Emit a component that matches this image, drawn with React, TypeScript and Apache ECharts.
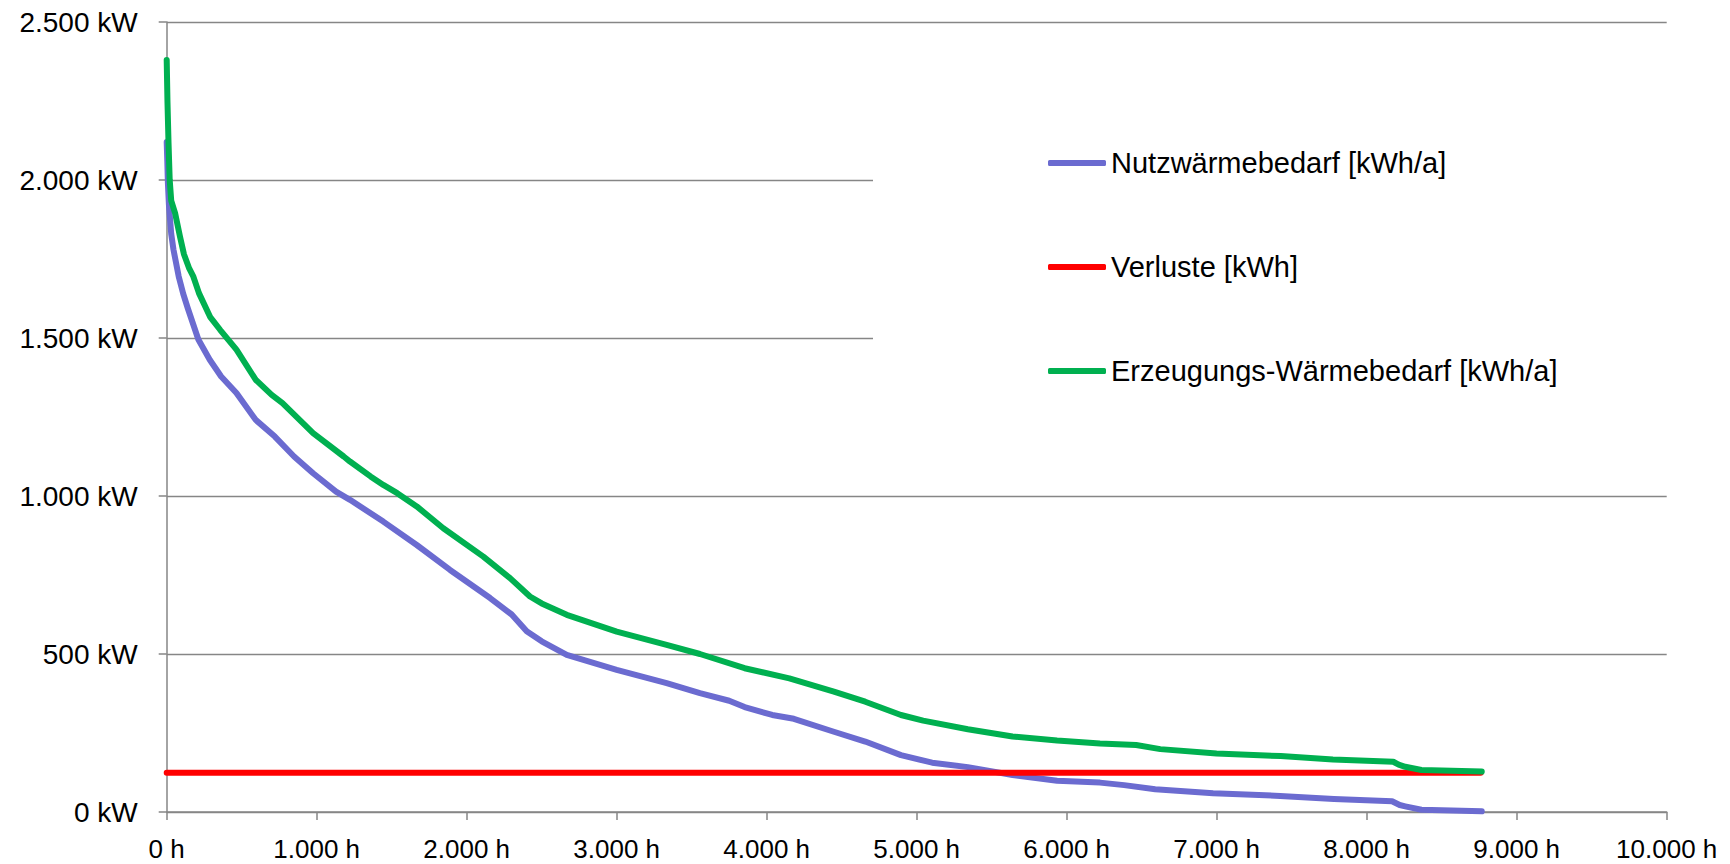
import React, { useEffect, useRef } from "react";
import * as echarts from "echarts";

// Nutzwärmebedarf (blue) – hours / kW
const nutzHours = [0, 4, 8, 15, 30, 45, 80, 110, 140, 211, 287, 363, 465, 593, 721, 849, 976, 1129, 1222, 1444, 1667, 1889, 2156, 2300, 2400, 2500, 2667, 3000, 3333, 3555, 3750, 3853, 4037, 4181, 4448, 4657, 4895, 5103, 5341, 5639, 5936, 6222, 6383, 6590, 6976, 7423, 7782, 8169, 8220, 8257, 8365, 8767];
const nutzKW = [2120, 2060, 1990, 1920, 1830, 1780, 1695, 1640, 1595, 1495, 1431, 1378, 1326, 1241, 1188, 1125, 1072, 1014, 988, 919, 845, 766, 677, 625, 572, 540, 497, 450, 408, 376, 352, 332, 307, 295, 254, 223, 180, 156, 142, 117, 99, 93, 85, 72, 59, 51, 41, 34, 22, 18, 7, 2];

// Verluste (red)
const verlustHours = [0, 8760];
const verlustKW = [124, 124];

// Erzeugungs-Wärmebedarf (green)
const erzHours = [0, 5, 12, 20, 30, 56, 89, 115, 150, 178, 215, 289, 356, 465, 593, 700, 772, 976, 1180, 1222, 1359, 1444, 1537, 1667, 1844, 2111, 2289, 2422, 2500, 2667, 3000, 3333, 3555, 3853, 4151, 4448, 4657, 4895, 5043, 5341, 5639, 5936, 6222, 6463, 6624, 6999, 7427, 7775, 8177, 8213, 8257, 8365, 8767];
const erzKW = [2380, 2250, 2120, 2000, 1935, 1895, 1820, 1765, 1720, 1694, 1642, 1567, 1526, 1463, 1368, 1320, 1294, 1199, 1125, 1109, 1062, 1035, 1009, 967, 898, 808, 740, 682, 660, 624, 571, 529, 500, 455, 423, 381, 349, 307, 289, 262, 239, 226, 217, 212, 199, 185, 177, 166, 159, 150, 143, 133, 128];

const seriesNames = ["Nutzwärmebedarf [kWh/a]", "Verluste [kWh]", "Erzeugungs-Wärmebedarf [kWh/a]"];
const seriesColors = ["#6b6bd0", "#ff0000", "#00b050"];

const xTickLabels = ["0 h", "1.000 h", "2.000 h", "3.000 h", "4.000 h", "5.000 h", "6.000 h", "7.000 h", "8.000 h", "9.000 h", "10.000 h"];
const yTickLabels = ["0 kW", "500 kW", "1.000 kW", "1.500 kW", "2.000 kW", "2.500 kW"];

const zip = (xs: number[], ys: number[]) => xs.map((x, i) => [x, ys[i]]);

export default function App() {
  const ref = useRef<HTMLDivElement>(null);

  useEffect(() => {
    if (!ref.current) return;
    const chart = echarts.init(ref.current, undefined, { renderer: "svg" });
    const font = "'Liberation Sans', Arial, sans-serif";
    const gridColor = "#868686";
    const datasets = [zip(nutzHours, nutzKW), zip(verlustHours, verlustKW), zip(erzHours, erzKW)];

    chart.setOption({
      animation: false,
      backgroundColor: "#ffffff",
      textStyle: { fontFamily: font },
      grid: { left: 166.7, right: 63.3, top: 22, bottom: 52, containLabel: false },
      xAxis: {
        type: "value",
        min: 0,
        max: 10000,
        interval: 1000,
        axisLine: { show: true, onZero: false, lineStyle: { color: gridColor, width: 1.5 } },
        axisTick: { show: true, inside: false, length: 8, lineStyle: { color: gridColor, width: 1.5 } },
        axisLabel: {
          margin: 24,
          fontSize: 26,
          color: "#000",
          fontFamily: font,
          formatter: (v: number) => xTickLabels[Math.round(v / 1000)] ?? "",
        },
        splitLine: { show: false },
      },
      yAxis: {
        type: "value",
        min: 0,
        max: 2500,
        interval: 500,
        axisLine: { show: true, lineStyle: { color: gridColor, width: 1.5 } },
        axisTick: { show: true, inside: false, length: 8, lineStyle: { color: gridColor, width: 1.5 } },
        axisLabel: {
          margin: 29,
          fontSize: 28,
          color: "#000",
          fontFamily: font,
          formatter: (v: number) => yTickLabels[Math.round(v / 500)] ?? "",
        },
        splitLine: { show: true, lineStyle: { color: gridColor, width: 1.3 } },
      },
      legend: {
        show: true,
        orient: "vertical",
        left: 873,
        top: 98.5,
        padding: [50, 110, 50, 175],
        backgroundColor: "#ffffff",
        icon: "roundRect",
        itemWidth: 58,
        itemHeight: 6,
        itemGap: 75,
        selectedMode: false,
        textStyle: { fontSize: 29, color: "#000", fontFamily: font },
        data: seriesNames.map((name, i) => ({ name, itemStyle: { color: seriesColors[i] } })),
      },
      series: seriesNames.map((name, i) => ({
        name,
        type: "line",
        data: datasets[i],
        symbol: "none",
        showSymbol: false,
        color: seriesColors[i],
        lineStyle: { color: seriesColors[i], width: 6, cap: "round", join: "round" },
        z: 2 + i,
      })),
    });

    return () => {
      chart.dispose();
    };
  }, []);

  return (
    <div
      ref={ref}
      style={{ position: "fixed", left: 0, top: 0, width: 1730, height: 864, background: "#fff" }}
    />
  );
}
